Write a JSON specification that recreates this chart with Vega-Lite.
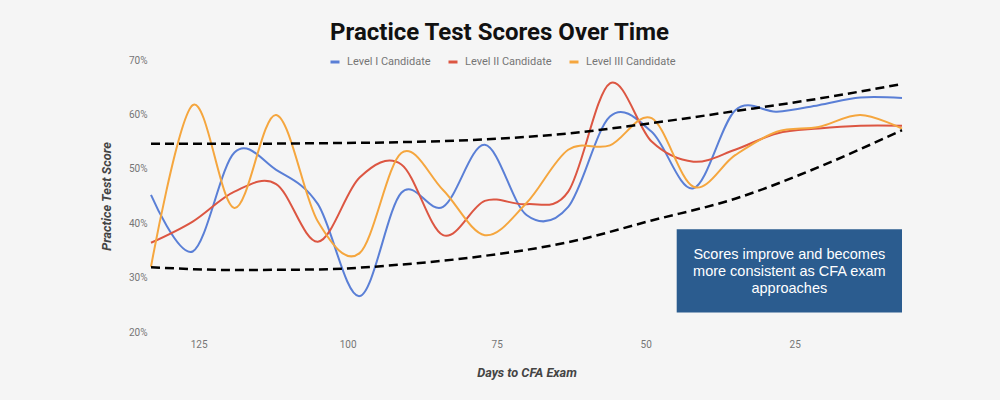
{
  "$schema": "https://vega.github.io/schema/vega-lite/v6.json",
  "autosize": "none",
  "width": 751,
  "height": 272,
  "padding": {"left": 151, "top": 60, "right": 98, "bottom": 68},
  "background": "#f5f5f5",
  "config": {"view": {"stroke": null}, "font": "Roboto"},
  "title": {
    "text": "Practice Test Scores Over Time",
    "font": "Roboto",
    "fontSize": 24,
    "fontWeight": "bold",
    "color": "#111111",
    "anchor": "middle",
    "frame": "group",
    "dx": -27,
    "dy": 29,
    "baseline": "alphabetic",
    "offset": 20
  },
  "layer": [
    {
      "data": {
        "values": [
          {"day": 133, "score": 45.2, "series": "Level I Candidate"},
          {"day": 126, "score": 34.8, "series": "Level I Candidate"},
          {"day": 119, "score": 53.0, "series": "Level I Candidate"},
          {"day": 112, "score": 49.8, "series": "Level I Candidate"},
          {"day": 105, "score": 43.5, "series": "Level I Candidate"},
          {"day": 98, "score": 26.6, "series": "Level I Candidate"},
          {"day": 91, "score": 45.6, "series": "Level I Candidate"},
          {"day": 84, "score": 43.0, "series": "Level I Candidate"},
          {"day": 77, "score": 54.4, "series": "Level I Candidate"},
          {"day": 70, "score": 41.5, "series": "Level I Candidate"},
          {"day": 63, "score": 43.0, "series": "Level I Candidate"},
          {"day": 56, "score": 59.6, "series": "Level I Candidate"},
          {"day": 49, "score": 56.8, "series": "Level I Candidate"},
          {"day": 42, "score": 46.4, "series": "Level I Candidate"},
          {"day": 35, "score": 60.7, "series": "Level I Candidate"},
          {"day": 28, "score": 60.5, "series": "Level I Candidate"},
          {"day": 21, "score": 61.7, "series": "Level I Candidate"},
          {"day": 14, "score": 63.1, "series": "Level I Candidate"},
          {"day": 7, "score": 63.0, "series": "Level I Candidate"},
          {"day": 133, "score": 36.4, "series": "Level II Candidate"},
          {"day": 126, "score": 40.3, "series": "Level II Candidate"},
          {"day": 119, "score": 45.8, "series": "Level II Candidate"},
          {"day": 112, "score": 47.2, "series": "Level II Candidate"},
          {"day": 105, "score": 36.6, "series": "Level II Candidate"},
          {"day": 98, "score": 48.4, "series": "Level II Candidate"},
          {"day": 91, "score": 50.8, "series": "Level II Candidate"},
          {"day": 84, "score": 37.8, "series": "Level II Candidate"},
          {"day": 77, "score": 44.1, "series": "Level II Candidate"},
          {"day": 70, "score": 43.5, "series": "Level II Candidate"},
          {"day": 63, "score": 45.8, "series": "Level II Candidate"},
          {"day": 56, "score": 65.7, "series": "Level II Candidate"},
          {"day": 49, "score": 55.0, "series": "Level II Candidate"},
          {"day": 42, "score": 51.3, "series": "Level II Candidate"},
          {"day": 35, "score": 53.5, "series": "Level II Candidate"},
          {"day": 28, "score": 56.5, "series": "Level II Candidate"},
          {"day": 21, "score": 57.4, "series": "Level II Candidate"},
          {"day": 14, "score": 57.9, "series": "Level II Candidate"},
          {"day": 7, "score": 57.9, "series": "Level II Candidate"},
          {"day": 133, "score": 32.0, "series": "Level III Candidate"},
          {"day": 126, "score": 61.7, "series": "Level III Candidate"},
          {"day": 119, "score": 42.8, "series": "Level III Candidate"},
          {"day": 112, "score": 59.9, "series": "Level III Candidate"},
          {"day": 105, "score": 40.3, "series": "Level III Candidate"},
          {"day": 98, "score": 34.5, "series": "Level III Candidate"},
          {"day": 91, "score": 52.9, "series": "Level III Candidate"},
          {"day": 84, "score": 46.1, "series": "Level III Candidate"},
          {"day": 77, "score": 37.8, "series": "Level III Candidate"},
          {"day": 70, "score": 43.7, "series": "Level III Candidate"},
          {"day": 63, "score": 53.5, "series": "Level III Candidate"},
          {"day": 56, "score": 54.3, "series": "Level III Candidate"},
          {"day": 49, "score": 59.3, "series": "Level III Candidate"},
          {"day": 42, "score": 46.7, "series": "Level III Candidate"},
          {"day": 35, "score": 52.5, "series": "Level III Candidate"},
          {"day": 28, "score": 56.8, "series": "Level III Candidate"},
          {"day": 21, "score": 57.7, "series": "Level III Candidate"},
          {"day": 14, "score": 59.9, "series": "Level III Candidate"},
          {"day": 7, "score": 57.4, "series": "Level III Candidate"}
        ]
      },
      "mark": {"type": "line", "interpolate": "cardinal", "strokeWidth": 2},
      "encoding": {
        "x": {
          "field": "day",
          "type": "quantitative",
          "scale": {"domain": [7, 133], "reverse": true, "nice": false, "zero": false},
          "axis": {
            "values": [125, 100, 75, 50, 25],
            "grid": false,
            "domain": false,
            "ticks": false,
            "labelFont": "Roboto",
            "labelFontSize": 10,
            "labelColor": "#757575",
            "labelPadding": 7,
            "title": "Days to CFA Exam",
            "titleFont": "Roboto",
            "titleFontSize": 12.7,
            "titleFontWeight": "bold",
            "titleFontStyle": "italic",
            "titleColor": "#444444",
            "titlePadding": 17
          }
        },
        "y": {
          "field": "score",
          "type": "quantitative",
          "scale": {"domain": [20, 70], "nice": false, "zero": false},
          "axis": {
            "values": [20, 30, 40, 50, 60, 70],
            "labelExpr": "datum.value + '%'",
            "grid": false,
            "domain": false,
            "ticks": false,
            "labelFont": "Roboto",
            "labelFontSize": 10,
            "labelColor": "#757575",
            "labelPadding": 4,
            "title": "Practice Test Score",
            "titleFont": "Roboto",
            "titleFontSize": 12.8,
            "titleFontWeight": "bold",
            "titleFontStyle": "italic",
            "titleColor": "#444444",
            "titlePadding": 15
          }
        },
        "color": {
          "field": "series",
          "type": "nominal",
          "scale": {
            "domain": ["Level I Candidate", "Level II Candidate", "Level III Candidate"],
            "range": ["#5a7fd6", "#dc5642", "#f5a63e"]
          },
          "legend": {
            "title": null,
            "orient": "none",
            "legendX": 178,
            "legendY": -4,
            "direction": "horizontal",
            "symbolType": "stroke",
            "symbolSize": 81,
            "symbolStrokeWidth": 3,
            "labelFont": "Roboto",
            "labelFontSize": 11,
            "labelColor": "#757575",
            "labelOffset": 6,
            "columnPadding": 11
          }
        }
      }
    },
    {
      "data": {
        "values": [
          {"day": 133, "score": 54.6, "curve": "upper"},
          {"day": 119, "score": 54.6, "curve": "upper"},
          {"day": 105, "score": 54.7, "curve": "upper"},
          {"day": 91, "score": 54.9, "curve": "upper"},
          {"day": 77, "score": 55.4, "curve": "upper"},
          {"day": 63, "score": 56.5, "curve": "upper"},
          {"day": 49, "score": 58.4, "curve": "upper"},
          {"day": 35, "score": 60.6, "curve": "upper"},
          {"day": 21, "score": 62.9, "curve": "upper"},
          {"day": 7, "score": 65.6, "curve": "upper"},
          {"day": 133, "score": 31.9, "curve": "lower"},
          {"day": 119, "score": 31.4, "curve": "lower"},
          {"day": 105, "score": 31.5, "curve": "lower"},
          {"day": 91, "score": 32.4, "curve": "lower"},
          {"day": 77, "score": 34.0, "curve": "lower"},
          {"day": 63, "score": 36.5, "curve": "lower"},
          {"day": 49, "score": 40.5, "curve": "lower"},
          {"day": 35, "score": 44.5, "curve": "lower"},
          {"day": 21, "score": 50.3, "curve": "lower"},
          {"day": 7, "score": 57.1, "curve": "lower"}
        ]
      },
      "mark": {"type": "line", "interpolate": "monotone", "color": "#000000", "strokeWidth": 2.5, "strokeDash": [9, 5]},
      "encoding": {
        "x": {"field": "day", "type": "quantitative"},
        "y": {"field": "score", "type": "quantitative"},
        "detail": {"field": "curve", "type": "nominal"}
      }
    },
    {
      "data": {"values": [{"day": 44.8, "day2": 7, "score": 38.9, "score2": 23.6}]},
      "mark": {"type": "rect", "color": "#2b5c8f"},
      "encoding": {
        "x": {"field": "day", "type": "quantitative"},
        "x2": {"field": "day2"},
        "y": {"field": "score", "type": "quantitative"},
        "y2": {"field": "score2"}
      }
    },
    {
      "data": {"values": [{"day": 25.9, "score": 34.2, "label": "Scores improve and becomes|more consistent as CFA exam|approaches"}]},
      "mark": {"type": "text", "lineBreak": "|", "align": "center", "baseline": "middle", "font": "Liberation Sans", "fontSize": 14.5, "lineHeight": 17, "color": "#ffffff"},
      "encoding": {
        "x": {"field": "day", "type": "quantitative"},
        "y": {"field": "score", "type": "quantitative"},
        "text": {"field": "label"}
      }
    }
  ]
}
